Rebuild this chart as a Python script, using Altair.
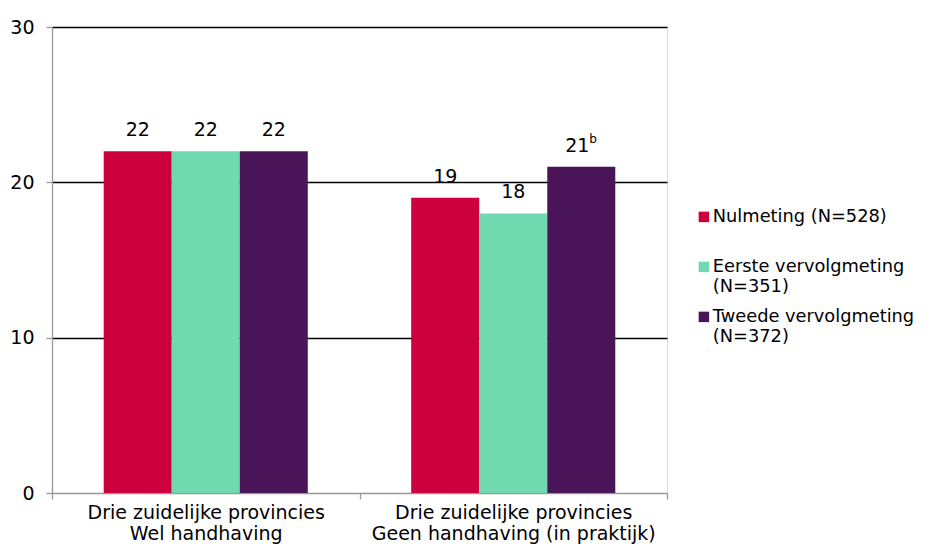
import altair as alt
import pandas as pd

groups = ["Drie zuidelijke provincies\nWel handhaving",
          "Drie zuidelijke provincies\nGeen handhaving (in praktijk)"]
series = ["Nulmeting (N=528)\n ", "Eerste vervolgmeting\n(N=351)", "Tweede vervolgmeting\n(N=372)"]
nulmeting = [22, 19]
eerste = [22, 18]
tweede = [22, 21]
sup_nul = ["", ""]
sup_eerste = ["", ""]
sup_tweede = ["", "b"]
colors = ["#CC003C", "#71D9AF", "#4A1558"]

rows = []
for s, vals, sups in zip(series, [nulmeting, eerste, tweede], [sup_nul, sup_eerste, sup_tweede]):
    for g, v, sp in zip(groups, vals, sups):
        rows.append({"group": g, "series": s, "value": v, "sup": sp})
df = pd.DataFrame(rows)

FONT = "DejaVu Sans"
FS = 19

x = alt.X("group:N", sort=groups, title=None,
          scale=alt.Scale(paddingInner=0, paddingOuter=0),
          axis=alt.Axis(labelAngle=0, labelExpr="split(datum.label, '\\n')",
                        tickBand="extent", tickSize=6, tickColor="#999999",
                        domainColor="#999999", domainWidth=1.3, tickWidth=1.3,
                        labelFontSize=FS, labelFont=FONT, labelColor="#000000",
                        labelPadding=4, labelLineHeight=21, labelLimit=0, grid=False))
xo = alt.XOffset("series:N", sort=series,
                 scale=alt.Scale(paddingInner=0, paddingOuter=0.76))
y = alt.Y("value:Q", title=None,
          scale=alt.Scale(domain=[0, 30], nice=False),
          axis=alt.Axis(values=[0, 10, 20, 30], tickSize=6, tickColor="#999999",
                        domainColor="#999999", domainWidth=1.3, tickWidth=1.3,
                        labelFontSize=FS, labelFont=FONT, labelColor="#000000",
                        labelPadding=12,
                        grid=True, gridWidth=1.3,
                        gridColor={"condition": {"test": "datum.value === 0", "value": "transparent"},
                                   "value": "#000000"}))

base = alt.Chart(df)

bars = base.mark_bar().encode(
    x=x, xOffset=xo, y=y,
    color=alt.Color("series:N", sort=series,
                    scale=alt.Scale(domain=series, range=colors),
                    legend=alt.Legend(title=None, orient="none", legendX=643, legendY=181,
                                      padding=0,
                                      symbolType="square", symbolSize=110, symbolStrokeWidth=0,
                                      labelFontSize=17.8, labelFont=FONT, labelColor="#000000",
                                      labelExpr="split(datum.label, '\\n')",
                                      labelLimit=400, labelOffset=0, rowPadding=11))
)

labels = base.transform_filter("datum.sup == ''").mark_text(
    dy=-15, baseline="alphabetic", fontSize=FS, font=FONT, color="#000000"
).encode(x=x, xOffset=xo, y=y, text=alt.Text("value:Q"))

labels_sup = base.transform_filter("datum.sup != ''").mark_text(
    dy=-15, dx=-4, baseline="alphabetic", fontSize=FS, font=FONT, color="#000000"
).encode(x=x, xOffset=xo, y=y, text=alt.Text("value:Q"))

sups = base.transform_filter("datum.sup != ''").mark_text(
    dy=-24, dx=8, align="left", baseline="alphabetic", fontSize=12, font=FONT, color="#000000"
).encode(x=x, xOffset=xo, y=y, text=alt.Text("sup:N"))

chart = alt.layer(bars, labels, labels_sup, sups).properties(
    width=615, height=466,
    autosize=alt.AutoSizeParams(type="none"),
    padding={"left": 44, "top": 19, "right": 256, "bottom": 51},
).configure_view(stroke=None).configure(background="#ffffff")

chart.save("out.html", embed_options={"renderer": "svg", "actions": False})
